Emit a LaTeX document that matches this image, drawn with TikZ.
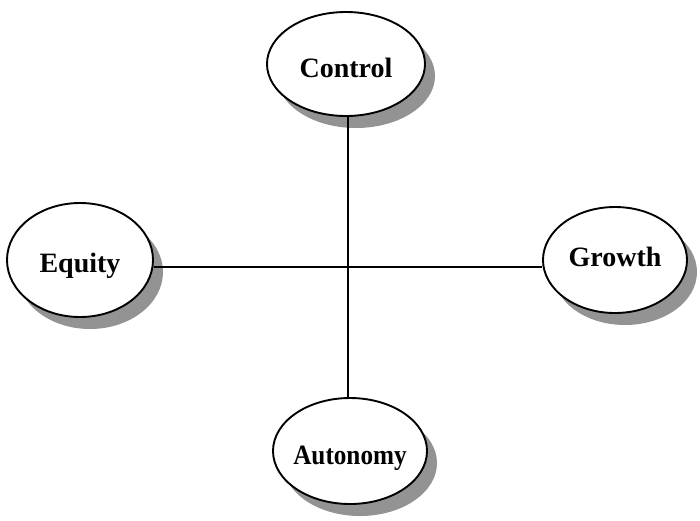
\documentclass[tikz,border=0pt]{standalone}
\usepackage{fontspec}
\setmainfont{Liberation Serif}
\usetikzlibrary{shapes.geometric,shadows}
\newcommand{\ovtext}[2]{\raisebox{-#1pt}[0pt][0pt]{\makebox[0pt]{#2}}}
\begin{document}
\begin{tikzpicture}[x=1pt,y=-1pt,
  oval/.style={ellipse, draw=black, line width=1.9pt, fill=white, inner sep=0pt,
    font=\fontsize{28}{32}\selectfont\bfseries,
    drop shadow={shadow xshift=10pt, shadow yshift=-12pt, fill=gray!85, opacity=1}},
  link/.style={draw=black, line width=1.8pt}]
\useasboundingbox (0,0) rectangle (700,520);
\node[oval, minimum width=158pt, minimum height=104pt] (control) at (346,64) {\ovtext{13}{Control}};
\node[oval, minimum width=146pt, minimum height=114pt] (equity) at (80,260) {\ovtext{12}{Equity}};
\node[oval, minimum width=144pt, minimum height=106pt] (growth) at (615,260) {\ovtext{6}{Growth}};
\node[oval, minimum width=154pt, minimum height=106pt] (autonomy) at (350,451) {\ovtext{13}{\scalebox{0.9}[1]{Autonomy}}};
\coordinate (hl) at (348,267);
\draw[link] (equity.east |- hl) -- (growth.west |- hl);
\draw[link] (control.south -| hl) -- (autonomy.north -| hl);
\end{tikzpicture}
\end{document}
